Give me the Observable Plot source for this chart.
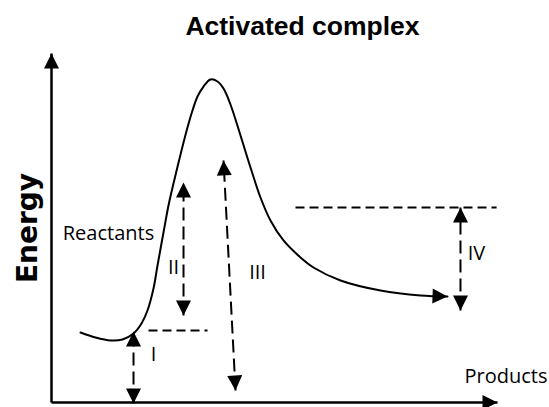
<!DOCTYPE html>
<html><head><meta charset="utf-8">
<script src="https://cdn.jsdelivr.net/npm/d3@7"></script>
<script src="https://cdn.jsdelivr.net/npm/@observablehq/plot@0.6"></script>
<style>
html,body{margin:0;padding:0;background:#fff;}
#title{box-sizing:border-box;height:42px;padding-top:11px;padding-left:56px;text-align:center;font:bold 26.5px "Liberation Sans",Arial,sans-serif;line-height:30px;color:#000;white-space:nowrap;}
#chart svg{display:block;}
</style></head><body>
<div id="title">Activated complex</div>
<div id="chart"></div>
<script>
// ---- data (reaction progress 0..100, energy 0..100) ----
const curveProgress = [6.50, 9.87, 13.23, 15.92, 18.39, 20.18, 21.52, 22.87, 23.77, 25.11, 26.23, 27.35, 29.15, 30.49, 31.61, 32.74, 34.08, 35.65, 37.22, 38.57, 40.13, 42.38, 44.62, 46.86, 49.10, 52.02, 55.83, 58.74, 64.80, 73.77, 82.74, 88.79];
const curveEnergy   = [20.06, 18.62, 17.77, 18.05, 19.77, 22.64, 26.36, 32.66, 39.26, 48.71, 56.45, 62.75, 72.21, 78.80, 83.67, 87.68, 90.54, 92.55, 91.98, 89.97, 85.39, 76.50, 67.34, 58.74, 52.15, 46.42, 41.55, 38.68, 34.96, 32.09, 30.66, 30.37];

const arrowNames = ["I", "II", "III", "IV"];
const arrowX1 = [18.39, 29.6, 41.26, 91.70];
const arrowE1 = [-0.3, 24.93, 3.44, 26.36];
const arrowX2 = [18.39, 29.6, 38.57, 91.70];
const arrowE2 = [20.34, 63.04, 69.34, 55.87];

const guideX1 = [21.75, 54.71];
const guideX2 = [34.98, 99.8];
const guideE  = [20.63, 55.87];

const axisX2 = [100, 0];
const axisE2 = [0, 100];

const labelText = ["Reactants", "I", "II", "III", "IV", "Products"];
const labelProgress = [12.78, 22.87, 27.35, 46.2, 95.3, 101.9];
const labelEnergy   = [48.4, 13.67, 38.6, 37.3, 42.6, 7.36];

const yLabel = "Energy";

// ---- layout ----
const W = 549, H = 365, mL = 51, mR = 52, mT = 11, mB = 5;
const kx = (W - mL - mR) / 100, ky = (H - mT - mB) / 100;

const curve = curveProgress.map((x, i) => ({x, y: curveEnergy[i]}));
const arrows = arrowNames.map((name, i) => ({name, x1: arrowX1[i], y1: arrowE1[i], x2: arrowX2[i], y2: arrowE2[i]}));
const guides = guideE.map((y, i) => ({x1: guideX1[i], x2: guideX2[i], y}));
const axes = axisX2.map((x, i) => ({x1: 0, y1: 0, x2: x, y2: axisE2[i]}));
const labels = labelText.map((text, i) => ({text, x: labelProgress[i], y: labelEnergy[i]}));

function angle(fx, fy, tx, ty) {
  const dxp = (tx - fx) * kx, dyp = -(ty - fy) * ky;
  return Math.atan2(dxp, -dyp);
}
function head(theta, L = 15, Wd = 15) {
  const s = Math.sin(theta), c = Math.cos(theta);
  return {draw(ctx) {
    const bx = -L * s, by = L * c;
    ctx.moveTo(0, 0);
    ctx.lineTo(bx + Wd / 2 * c, by + Wd / 2 * s);
    ctx.lineTo(bx - Wd / 2 * c, by - Wd / 2 * s);
    ctx.closePath();
  }};
}
const heads = [];
for (const a of arrows) {
  heads.push({x: a.x2, y: a.y2, t: angle(a.x1, a.y1, a.x2, a.y2)});
  heads.push({x: a.x1, y: a.y1, t: angle(a.x2, a.y2, a.x1, a.y1)});
}
for (const a of axes) heads.push({x: a.x2, y: a.y2, t: angle(a.x1, a.y1, a.x2, a.y2)});
const n = curve.length;
heads.push({x: curve[n - 1].x, y: curve[n - 1].y, t: angle(curve[n - 2].x, curve[n - 2].y, curve[n - 1].x, curve[n - 1].y)});

const chart = Plot.plot({
  width: W, height: H,
  marginLeft: mL, marginRight: mR, marginTop: mT, marginBottom: mB,
  x: {domain: [0, 100], axis: null},
  y: {domain: [0, 100], axis: null},
  style: {background: "white", overflow: "visible"},
  marks: [
    Plot.link(axes, {x1: "x1", y1: "y1", x2: "x2", y2: "y2", stroke: "black", strokeWidth: 2.5}),
    Plot.link(guides, {x1: "x1", y1: "y", x2: "x2", y2: "y", stroke: "black", strokeWidth: 2, strokeDasharray: (d, i) => null, strokeDasharray: "9,5"}),
    Plot.link(arrows, {x1: "x1", y1: "y1", x2: "x2", y2: "y2", stroke: "black", strokeWidth: 2, strokeDasharray: "13,6"}),
    Plot.line(curve, {x: "x", y: "y", curve: "catmull-rom", stroke: "black", strokeWidth: 2}),
    ...heads.map(h => Plot.dot([h], {x: "x", y: "y", symbol: head(h.t), fill: "black", stroke: "none"})),
    Plot.text(labels, {x: "x", y: "y", text: "text", fontFamily: "Open Sans", fontSize: 20, fill: "black"}),
    Plot.text([yLabel], {frameAnchor: "left", dx: -23, rotate: -90, textAnchor: "middle", fontFamily: "DejaVu Sans", fontWeight: "bold", fontSize: 28, fill: "black"})
  ]
});
document.getElementById("chart").appendChild(chart);
</script>
</body></html>
